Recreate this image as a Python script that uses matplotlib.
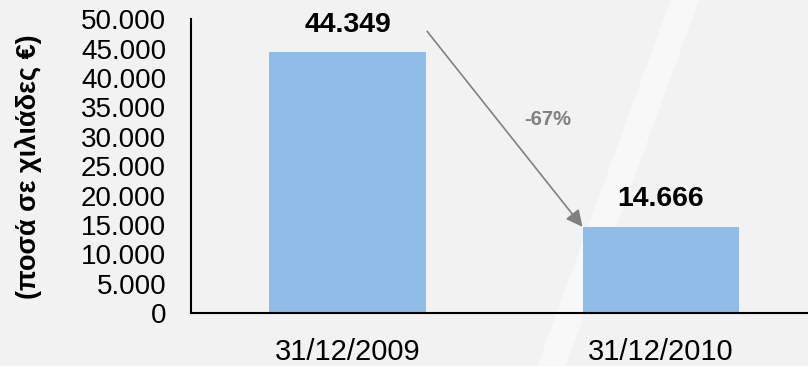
import matplotlib.pyplot as plt
from matplotlib.patches import Polygon
from matplotlib.ticker import FuncFormatter

plt.rcParams['font.family'] = ['Liberation Sans', 'DejaVu Sans']

dates = ['31/12/2009', '31/12/2010']
amounts = [44349, 14666]
change_label = '-67%'
y_ticks = list(range(0, 50001, 5000))

fig = plt.figure(figsize=(8.08, 3.66), dpi=100, facecolor='#f2f2f2')

# faint lighter diagonal band in the background
band = Polygon([(0.83, 1.0), (0.865, 1.0), (0.70, 0.0), (0.665, 0.0)],
               closed=True, transform=fig.transFigure, facecolor='#f8f8f8',
               edgecolor='none', zorder=-1)
fig.patches.append(band)

ax = fig.add_axes([0.2364, 0.1448, 0.7636, 0.8025])
ax.set_facecolor('none')
ax.set_zorder(1)

x = range(len(dates))
ax.bar(x, amounts, width=0.5, color='#8fbce9', zorder=2)

for i, v in enumerate(amounts):
    ax.text(i, v + 2500, f'{v:,}'.replace(',', '.'), ha='center', va='bottom',
            fontsize=20.5, fontweight='bold', color='black')

# arrow from first bar down to the second one
ax.annotate('', xy=(1 - 0.25, amounts[1]), xytext=(0.254, amounts[0] * 1.081),
            arrowprops=dict(arrowstyle='-|>', color='#808080', lw=1.2,
                            mutation_scale=25, shrinkA=0, shrinkB=0),
            annotation_clip=False)
ax.text(0.64, 33000, change_label, ha='center', va='center', fontsize=14.5,
        fontweight='bold', color='#808080')

ax.set_xlim(-0.5, 1.47)
ax.set_ylim(0, 50000)
ax.set_xticks(list(x))
ax.set_xticklabels(dates, fontsize=21)
ax.set_yticks(y_ticks)
ax.yaxis.set_major_formatter(FuncFormatter(lambda v, p: f'{int(v):,}'.replace(',', '.')))
ax.tick_params(axis='y', labelsize=20, length=0, pad=18)
ax.tick_params(axis='x', length=0, pad=18)

for s in ['top', 'right']:
    ax.spines[s].set_visible(False)
ax.spines['left'].set_linewidth(1.5)
ax.spines['bottom'].set_linewidth(1.5)

fig.text(0.035, 0.544, '(ποσά σε χιλιάδες €)', rotation=90, ha='center',
         va='center', fontsize=19.5, fontweight='bold')

fig.savefig('out.png', dpi=100, facecolor=fig.get_facecolor())
